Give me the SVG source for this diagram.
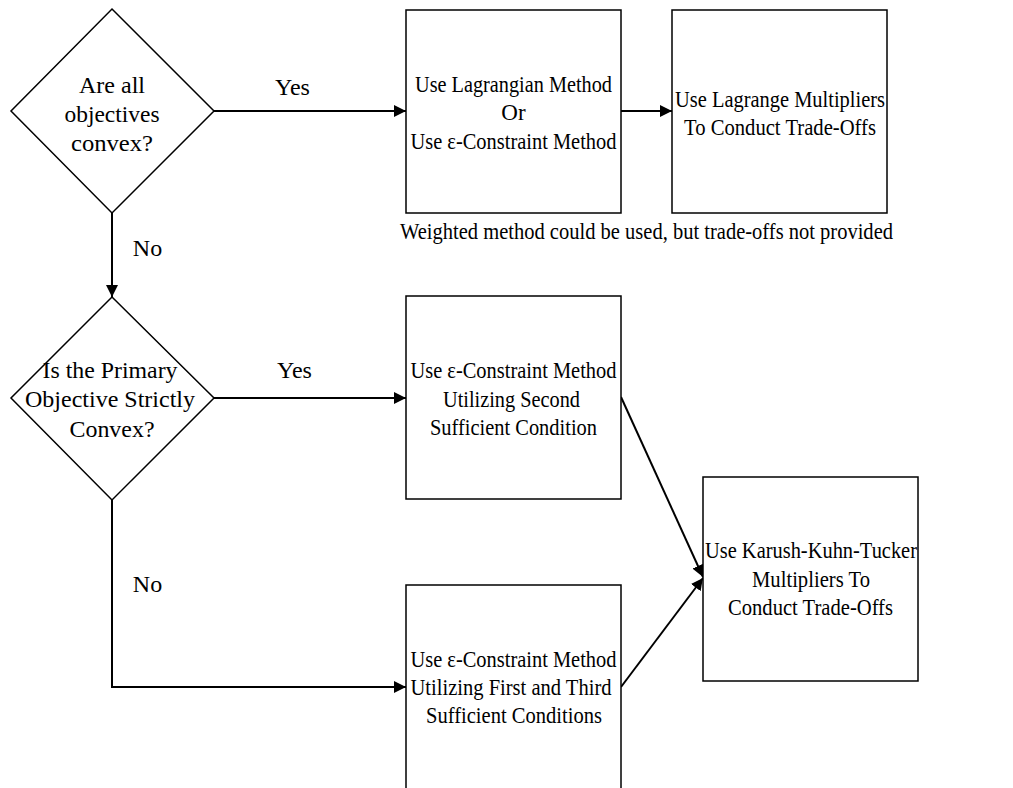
<svg xmlns="http://www.w3.org/2000/svg" width="1013" height="788" viewBox="0 0 1013 788">
<style>
.shape{fill:#fff;stroke:#000;stroke-width:1.5}
.conn{fill:none;stroke:#000;stroke-width:2}
text{font-family:"Liberation Serif","Times New Roman",serif;font-size:23px;fill:#000;text-anchor:middle}
.lbl{font-size:24px}
</style>
<defs>
<marker id="arr" markerUnits="userSpaceOnUse" markerWidth="12" markerHeight="12" refX="12" refY="6" orient="auto">
<path d="M0,0 L12,6 L0,12 z" fill="#000"/>
</marker>
</defs>
<rect width="1013" height="788" fill="#fff"/>
<g id="connectors">
<line class="conn" x1="214" y1="111" x2="406" y2="111" marker-end="url(#arr)"/>
<line class="conn" x1="621" y1="111" x2="672" y2="111" marker-end="url(#arr)"/>
<line class="conn" x1="112" y1="213" x2="112" y2="297" marker-end="url(#arr)"/>
<line class="conn" x1="214" y1="398" x2="406" y2="398" marker-end="url(#arr)"/>
<polyline class="conn" points="112,500 112,687 406,687" marker-end="url(#arr)"/>
<line class="conn" x1="621" y1="397" x2="703" y2="577" marker-end="url(#arr)"/>
<line class="conn" x1="621" y1="687" x2="703" y2="578" marker-end="url(#arr)"/>
<text class="lbl" x="292.5" y="94.5">Yes</text>
<text class="lbl" x="294.5" y="378">Yes</text>
<text class="lbl" x="147.5" y="256">No</text>
<text class="lbl" x="147.5" y="592">No</text>
</g>
<g id="d1">
<polygon class="shape" points="112,9 214,111 112,213 11,111"/>
<text x="112" y="93" textLength="66" lengthAdjust="spacingAndGlyphs">Are all</text>
<text x="112" y="122" textLength="95" lengthAdjust="spacingAndGlyphs">objectives</text>
<text x="112" y="151" textLength="82" lengthAdjust="spacingAndGlyphs">convex?</text>
</g>
<g id="d2">
<polygon class="shape" points="112,297 214,398 112,500 11,398"/>
<text x="110" y="378" textLength="135" lengthAdjust="spacingAndGlyphs">Is the Primary</text>
<text x="110" y="407" textLength="170" lengthAdjust="spacingAndGlyphs">Objective Strictly</text>
<text x="112" y="437" textLength="85" lengthAdjust="spacingAndGlyphs">Convex?</text>
</g>
<g id="b1">
<rect class="shape" x="406" y="10" width="215" height="203"/>
<text x="513.5" y="92" textLength="197" lengthAdjust="spacingAndGlyphs">Use Lagrangian Method</text>
<text x="513.5" y="120">Or</text>
<text x="513.5" y="149" textLength="206" lengthAdjust="spacingAndGlyphs">Use ε-Constraint Method</text>
</g>
<g id="b2">
<rect class="shape" x="672" y="10" width="215" height="203"/>
<text x="780" y="107" textLength="210" lengthAdjust="spacingAndGlyphs">Use Lagrange Multipliers</text>
<text x="780" y="135" textLength="192" lengthAdjust="spacingAndGlyphs">To Conduct Trade-Offs</text>
</g>
<g id="note">
<text x="646.5" y="239" textLength="493" lengthAdjust="spacingAndGlyphs">Weighted method could be used, but trade-offs not provided</text>
</g>
<g id="b3">
<rect class="shape" x="406" y="296" width="215" height="203"/>
<text x="513.5" y="378" textLength="206" lengthAdjust="spacingAndGlyphs">Use ε-Constraint Method</text>
<text x="511.5" y="407" textLength="137" lengthAdjust="spacingAndGlyphs">Utilizing Second</text>
<text x="513.5" y="435" textLength="167" lengthAdjust="spacingAndGlyphs">Sufficient Condition</text>
</g>
<g id="b4">
<rect class="shape" x="406" y="585" width="215" height="215"/>
<text x="513.5" y="667" textLength="206" lengthAdjust="spacingAndGlyphs">Use ε-Constraint Method</text>
<text x="511" y="695" textLength="201" lengthAdjust="spacingAndGlyphs">Utilizing First and Third</text>
<text x="514" y="723" textLength="176" lengthAdjust="spacingAndGlyphs">Sufficient Conditions</text>
</g>
<g id="b5">
<rect class="shape" x="703" y="477" width="215" height="204"/>
<text x="811" y="558" textLength="212" lengthAdjust="spacingAndGlyphs">Use Karush-Kuhn-Tucker</text>
<text x="811" y="587" textLength="118" lengthAdjust="spacingAndGlyphs">Multipliers To</text>
<text x="810.5" y="615" textLength="165" lengthAdjust="spacingAndGlyphs">Conduct Trade-Offs</text>
</g>
</svg>
